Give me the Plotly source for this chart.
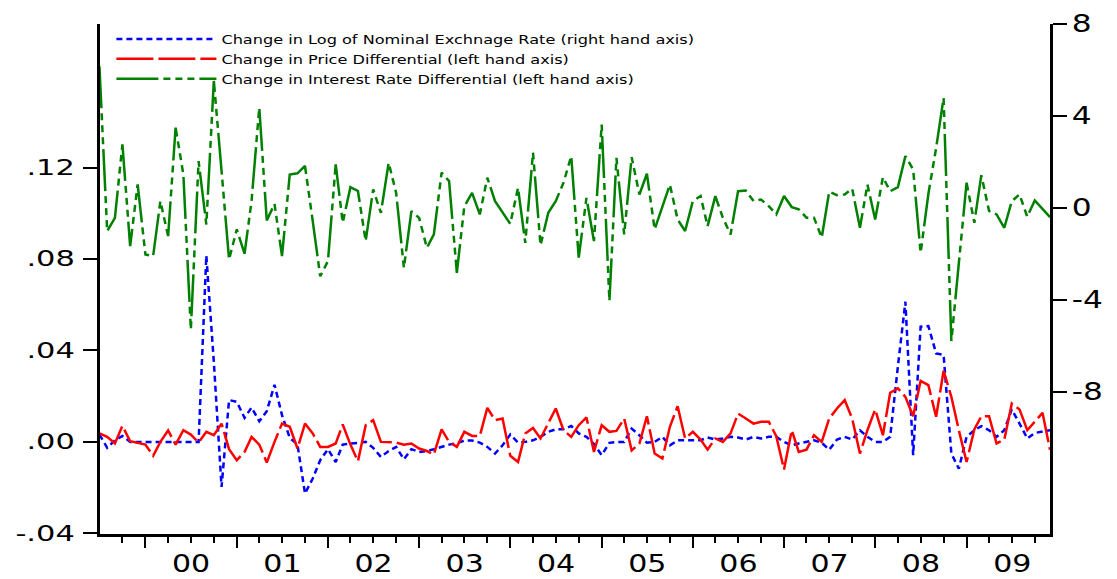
import pandas as pd
import plotly.graph_objects as go

# Monthly observations, July 1999 - December 2009
months = pd.date_range("1999-07-01", "2009-12-01", freq="MS")

# Change in log of nominal exchange rate
d_exchange = [
    0.0032, -0.0026, 0.0007, 0.0026, 0, 0, 0, 0, 0, 0, 0, 0, 0, 0,
    0.0815, 0.035, -0.0197, 0.0183, 0.0175, 0.0105, 0.015, 0.009, 0.0134, 0.025,
    0.0117, 0.0018, -0.0012, -0.0226, -0.016, -0.008, -0.0032, -0.0088, -0.0012, -0.0007,
    -0.0003, 0, -0.0026, -0.0066, -0.004, -0.0022, -0.0076, -0.0032, -0.0044, -0.004,
    -0.0032, -0.0022, -0.0012, -0.0007, 0.0006, 0.0006, -0.0003, -0.0022, -0.0051, -0.0015,
    0.0032, -0.0003, 0, 0.0007, 0.0022, 0.0044, 0.0055, 0.0055, 0.007, 0.0037,
    0.0022, -0.001, -0.0058, -0.0004, 0, 0, 0.0058, 0.0029, -0.0004, 0,
    0.0022, -0.0015, 0.0007, 0.0007, 0.0007, 0.0007, 0.0019, 0.001, 0.0015, 0.0022,
    0.0019, 0.001, 0.0022, 0.0015, 0.0022, 0.0022, 0, -0.0015, -0.0007, 0,
    0.0007, -0.0004, -0.0034, 0.001, 0.0022, 0.001, 0.0051, 0.0022, 0, 0,
    0.0022, 0.033, 0.0613, -0.0058, 0.0504, 0.0507, 0.0387, 0.038, -0.0051, -0.0117,
    0.0022, 0.0051, 0.0069, 0.0051, 0.0022, 0.0051, 0.0142, 0.008, 0.0015, 0.0039,
    0.0044, 0.0051,
]

# Change in price differential
d_price = [
    0.0037, 0.0022, -0.0007, 0.007, 0.0003, -0.0003, -0.0012, -0.0061, 0, 0.005,
    -0.0012, 0.0051, 0.0032, -0.0003, 0.0044, 0.0029, 0.008, -0.0032, -0.008, -0.0044,
    0.0022, -0.0012, -0.009, 0, 0.008, 0.0066, -0.0029, 0.008, 0.0037, -0.0022,
    -0.0022, -0.0007, 0.0076, -0.0012, -0.0085, 0.0073, 0.0095, 0, 0, -0.0003,
    -0.0012, -0.0007, -0.0029, -0.004, -0.0055, 0.0055, 0, -0.0022, 0.0044, 0.0026,
    0.0026, 0.0149, 0.0095, 0.0102, -0.0061, -0.0088, 0.0037, 0.0061, 0.0015, 0.008,
    0.0146, 0.0051, 0.0022, 0.0073, 0.0107, -0.0044, 0.0073, 0.0044, 0.0048, 0.0102,
    -0.0037, -0.0007, 0.0112, -0.0051, -0.0073, 0.0066, 0.0156, 0.0015, 0.0044, 0.001,
    -0.0034, 0.0015, 0, 0.0037, 0.0124, 0.0102, 0.008, 0.0088, 0.0088, 0.0025,
    -0.0121, 0.0051, -0.0044, -0.0034, 0.0029, 0, 0.0102, 0.0146, 0.0183, 0.0102,
    -0.0051, 0.0051, 0.0142, 0.0029, 0.0215, 0.0234, 0.0197, 0.0112, 0.0267, 0.0248,
    0.011, 0.0311, 0.0197, 0.0051, -0.0088, 0.0054, 0.0112, 0.0112, -0.0007, 0.001,
    0.0168, 0.0142, 0.0051, 0.0088, 0.0127, -0.0034,
]

# Change in interest rate differential
d_interest = [
    6.16, -1.02, -0.44, 2.76, -1.67, 1.02, -2.03, -2.1, 0.29, -1.23,
    3.49, 1.45, -5.3, 2.03, -0.73, 5.52, 1.6, -2.25, -0.94, -2.0,
    0.29, 4.36, -0.55, 0.17, -2.1, 1.45, 1.5, 1.82, -0.58, -2.98,
    -2.32, 1.89, -0.65, 0.9, 0.73, -1.45, 0.8, -0.22, 1.96, 0.65,
    -2.61, -0.15, -0.44, -1.74, -1.16, 1.53, 1.16, -2.83, 0.07, 0.65,
    -0.29, 1.31, 0.29, -0.22, -0.7, 0.87, -1.53, 2.4, -1.63, -0.22,
    0.29, 1.09, 2.25, -2.17, 0.43, -1.45, 3.62, -4.06, 2.17, -1.16,
    2.2, 0.58, 1.48, -0.94, 0.1, 1.01, -0.51, -1.01, 0.29, 0.51,
    -0.8, 0.51, -0.43, -1.16, 0.72, 0.75, 0.29, 0.36, 0.07, -0.29,
    0.51, 0.03, -0.07, -0.43, -0.43, -1.3, 0.7, 0.55, 0.58, 0.83,
    -0.87, 1.01, -0.51, 1.33, 0.72, 0.9, 2.25, 1.67, -1.96, 0.6,
    2.6, 4.78, -5.8, -2.32, 1.09, -0.65, 1.42, -0.14, -0.29, -0.87,
    0.29, 0.58, -0.39, 0.32, -0.07, -0.41,
]

left_ticks = [-0.04, 0.0, 0.04, 0.08, 0.12]
left_labels = ["-.04", ".00", ".04", ".08", ".12"]
right_ticks = [-8, -4, 0, 4, 8]
right_labels = ["-8", "-4", "0", "4", "8"]

names = [
    "Change in Log of Nominal Exchnage Rate (right hand axis)",
    "Change in Price Differential (left hand axis)",
    "Change in Interest Rate Differential (left hand axis)",
]

FONT = "DejaVu Sans"

fig = go.Figure()
fig.add_trace(go.Scatter(
    x=months, y=d_exchange, name=names[0], mode="lines",
    line=dict(color="#0000FF", width=2.5, dash="6px,4px"),
))
fig.add_trace(go.Scatter(
    x=months, y=d_price, name=names[1], mode="lines",
    line=dict(color="#FF0000", width=2.5, dash="37px,5px"),
))
fig.add_trace(go.Scatter(
    x=months, y=d_interest, name=names[2], mode="lines", yaxis="y2",
    line=dict(color="#008000", width=2.5, dash="42px,5px,7px,5px,7px,5px,7px,5px"),
))

fig.update_layout(
    width=1117, height=579,
    margin=dict(l=100, r=67, t=24, b=45),
    paper_bgcolor="white", plot_bgcolor="white",
    font=dict(family=FONT, color="black"),
    showlegend=True,
    legend=dict(
        x=0.012, y=1.0, xanchor="left", yanchor="top",
        bgcolor="rgba(0,0,0,0)", borderwidth=0,
        font=dict(family=FONT, size=13, color="black"),
        itemwidth=100, tracegroupgap=0,
    ),
    xaxis=dict(
        type="date",
        # start a touch after the first month so the partial 1999 year gets no label
        range=["1999-07-03 06:00", months[-1]],
        automargin=False,
        showgrid=False, zeroline=False,
        showline=True, linecolor="black", linewidth=3,
        ticks="outside", ticklen=11, tickwidth=2, tickcolor="black",
        ticklabelstandoff=-6,
        tick0="2000-01-01", dtick="M12",
        tickformat="%y", ticklabelmode="period",
        tickfont=dict(family=FONT, size=25, color="black"),
        minor=dict(ticks="outside", ticklen=6, tickwidth=2, tickcolor="black",
                   dtick="M3", tick0="1999-07-01", showgrid=False),
    ),
    yaxis=dict(
        range=[-0.0403, 0.1828],
        automargin=False,
        showgrid=False, zeroline=False,
        showline=True, linecolor="black", linewidth=3,
        ticks="outside", ticklen=14, tickwidth=2, tickcolor="black",
        ticklabelstandoff=4,
        tickmode="array", tickvals=left_ticks, ticktext=left_labels,
        tickfont=dict(family=FONT, size=21, color="black"),
    ),
    yaxis2=dict(
        overlaying="y", side="right",
        range=[-14.2, 8.0],
        automargin=False,
        showgrid=False, zeroline=False,
        showline=True, linecolor="black", linewidth=3,
        ticks="outside", ticklen=14, tickwidth=2, tickcolor="black",
        tickmode="array", tickvals=right_ticks, ticktext=right_labels,
        tickfont=dict(family=FONT, size=24, color="black"),
    ),
)

# Widen the lettering (EViews-style wide text) by stretching each label's advance
stretch_js = """
var gd = document.getElementById('{plot_id}');
function widen(sel, f) {
  gd.querySelectorAll(sel).forEach(function (t) {
    var w = t.getComputedTextLength();
    if (w > 0) {
      t.setAttribute('textLength', (w * f).toFixed(1));
      t.setAttribute('lengthAdjust', 'spacingAndGlyphs');
    }
  });
}
widen('text.legendtext', 1.24);
widen('g.xtick text', 1.2);
widen('g.ytick text', 1.45);
widen('g.y2tick text', 1.3);
// the legend box was sized for the narrower text; let the wider text show in full
gd.querySelectorAll('.legend [clip-path]').forEach(function (el) {
  el.removeAttribute('clip-path');
});
"""

fig.write_html("out.html", post_script=stretch_js)
